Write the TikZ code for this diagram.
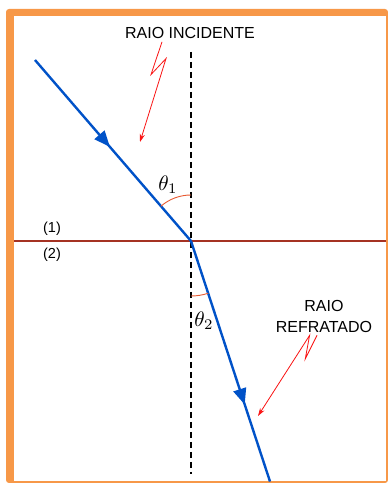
\documentclass[tikz,border=0pt]{standalone}
\usepackage{xcolor}
\usepackage{tikz}
\usetikzlibrary{arrows.meta,positioning,calc,decorations.markings}
\usepackage{amsmath}
\usepackage{fontspec}
\setmainfont{Liberation Sans}
\definecolor{frameOrange}{RGB}{247,152,72}
\definecolor{rayBlue}{RGB}{0,82,200}
\definecolor{surfRed}{RGB}{165,50,35}
\definecolor{arcRed}{RGB}{232,90,50}
\definecolor{tagRed}{RGB}{250,20,20}

\tikzset{
  ray/.style={rayBlue,line width=2.4pt},
  raymark/.style={postaction={decorate},decoration={markings,
      mark=at position #1 with {\arrow{Triangle[length=16pt,width=13pt]}}}},
  tag/.style={font=\fontsize{16}{21}\selectfont,align=center,inner sep=0pt},
  bolt/.style={tagRed,line width=0.8pt,-{Stealth[length=8pt,width=5pt]}},
  medium/.style={font=\fontsize{14.5}{16}\selectfont,inner sep=0pt},
  angarc/.style={arcRed,line width=0.9pt},
  angtxt/.style={inner sep=0pt}
}

\begin{document}
\begin{tikzpicture}[x=1pt,y=1pt]
  \useasboundingbox (0,0) rectangle (388,483);
  % frame
  \fill[frameOrange,rounded corners=3pt] (6,0) rectangle (388,474);
  \fill[white] (13.5,1.5) rectangle (386.3,466.5);
  % normal and interface
  \coordinate (O) at (191,242);
  \coordinate (nTop) at (191,431);
  \coordinate (nBot) at (191,9);
  \coordinate (sL) at (14,242);
  \coordinate (sR) at (386,242);
  \draw[black,line width=1.6pt,dash pattern=on 6pt off 4pt] (nTop) -- (nBot);
  \draw[surfRed,line width=1.4pt] (sL) -- (sR);
  \node[medium] (m1) at (52,254) {(1)};
  \node[medium] (m2) at (52,228) {(2)};
  % rays
  \coordinate (src) at (35,423);
  \coordinate (dst) at (270,1.5);
  \draw[ray,raymark=0.48] (src) -- (O);
  \draw[ray,raymark=0.68] (O) -- (dst);
  % angles
  \draw[angarc] ($(O)+(90:46)$) arc (90:130.8:46);
  \draw[angarc] ($(O)+(-90:55)$) arc (-90:-71.8:55);
  \node[angtxt] (th1) at (168,298) {\scalebox{2.1}{$\theta_1$}};
  \node[angtxt] (th2) at (204,162) {\scalebox{2.1}{$\theta_2$}};
  % labels with lightning pointers
  \node[tag] (inc) at (190,450) {RAIO INCIDENTE};
  \node[tag] (ref) at (324,167) {RAIO\\REFRATADO};
  \coordinate (incTip) at (140,341);
  \coordinate (refTip) at (258,67);
  \draw[bolt] ($(inc.south)+(-28,-3)$) -- ++(-11,-32.7) -- ++(15,16) -- (incTip);
  \draw[bolt] ($(ref.south)+(-7,-3)$) -- ++(-11.7,-23.4) -- ++(4.3,23.4) -- (refTip);
\end{tikzpicture}
\end{document}
